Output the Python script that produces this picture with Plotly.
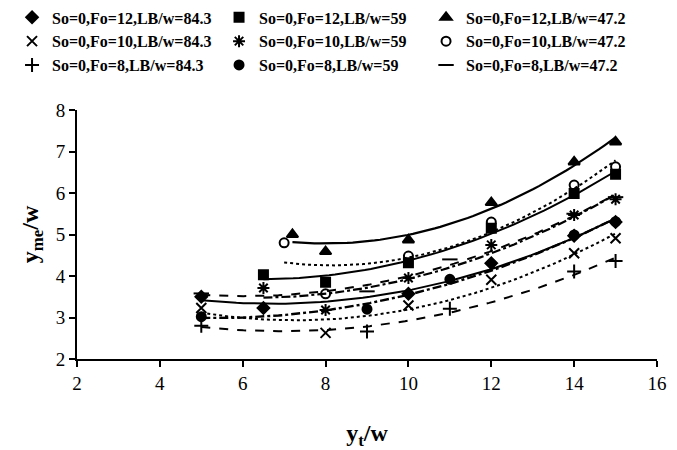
import numpy as np
import plotly.graph_objects as go

# ---- data ----
names = [
    "So=0,Fo=12,LB/w=84.3", "So=0,Fo=12,LB/w=59", "So=0,Fo=12,LB/w=47.2",
    "So=0,Fo=10,LB/w=84.3", "So=0,Fo=10,LB/w=59", "So=0,Fo=10,LB/w=47.2",
    "So=0,Fo=8,LB/w=84.3", "So=0,Fo=8,LB/w=59", "So=0,Fo=8,LB/w=47.2",
]

x_fo12_843 = [5, 6.5, 10, 12, 14, 15]
y_fo12_843 = [3.50, 3.23, 3.57, 4.31, 4.97, 5.30]

x_fo12_59 = [6.5, 8, 10, 12, 14, 15]
y_fo12_59 = [4.03, 3.85, 4.32, 5.15, 5.99, 6.45]

x_fo12_472 = [7.2, 8, 10, 12, 14, 15]
y_fo12_472 = [5.00, 4.59, 4.87, 5.77, 6.75, 7.23]

x_fo10_843 = [5, 8, 10, 12, 14, 15]
y_fo10_843 = [3.23, 2.63, 3.29, 3.91, 4.55, 4.91]

x_fo10_59 = [6.5, 8, 10, 12, 14, 15]
y_fo10_59 = [3.71, 3.18, 3.95, 4.75, 5.47, 5.85]

x_fo10_472 = [7, 8, 10, 12, 14, 15]
y_fo10_472 = [4.80, 3.57, 4.48, 5.30, 6.19, 6.63]

x_fo8_843 = [5, 9, 11, 14, 15]
y_fo8_843 = [2.80, 2.66, 3.21, 4.11, 4.36]

x_fo8_59 = [5, 9, 11, 14, 15]
y_fo8_59 = [3.02, 3.20, 3.92, 4.99, 5.31]

x_fo8_472 = [5, 9, 11, 14, 15]
y_fo8_472 = [3.58, 3.63, 4.40, 5.50, 5.90]

xs = [x_fo12_843, x_fo12_59, x_fo12_472, x_fo10_843, x_fo10_59, x_fo10_472,
      x_fo8_843, x_fo8_59, x_fo8_472]
ys = [y_fo12_843, y_fo12_59, y_fo12_472, y_fo10_843, y_fo10_59, y_fo10_472,
      y_fo8_843, y_fo8_59, y_fo8_472]

x_ticks = [2, 4, 6, 8, 10, 12, 14, 16]
y_ticks = [2, 3, 4, 5, 6, 7, 8]

# ---- styles ----
symbols = ["diamond", "square", "triangle-up", "x-thin-open", "asterisk-open",
           "circle-open", "cross-thin-open", "circle", "line-ew-open"]
sizes = [9, 9, 10, 10, 10, 9, 10, 9, 11]
dashes = ["solid", "solid", "solid", "dot", "dashdot", "dot", "dash", "dashdot", "dash"]
widths = [2, 2, 2.2, 2, 2.2, 2, 2, 2.4, 2]

fig = go.Figure()

# trend lines (quadratic fits of each series)
for x, y, d, w in zip(xs, ys, dashes, widths):
    c = np.polyfit(x, y, 2)
    xx = np.linspace(min(x), max(x), 60)
    fig.add_trace(go.Scatter(x=xx, y=np.polyval(c, xx), mode="lines",
                             line=dict(color="black", width=w, dash=d),
                             showlegend=False, hoverinfo="skip"))

# markers
for n, x, y, s, sz in zip(names, xs, ys, symbols, sizes):
    fig.add_trace(go.Scatter(x=x, y=y, mode="markers", name=n,
                             marker=dict(symbol=s, size=sz, color="black",
                                         line=dict(color="black", width=2))))

axis_font = dict(family="Liberation Serif", size=19, color="black")
fig.update_layout(
    width=677, height=450,
    paper_bgcolor="white", plot_bgcolor="white",
    margin=dict(l=77, r=20, t=110, b=91, autoexpand=False),
    font=dict(family="Liberation Serif", color="black"),
    legend=dict(orientation="h",
                x=-0.112, y=1.44, xanchor="left", yanchor="top",
                font=dict(family="Liberation Serif", size=16, color="black", weight="bold"),
                entrywidth=162, entrywidthmode="pixels",
                itemwidth=30, tracegroupgap=0, bgcolor="rgba(0,0,0,0)"),
    xaxis=dict(range=[2, 16], tickvals=x_ticks, showgrid=False, zeroline=False,
               showline=True, linecolor="black", linewidth=2, automargin=False,
               ticks="outside", ticklen=6, tickwidth=2, tickcolor="black",
               tickfont=axis_font,
               title=dict(text="<b>y<sub>t</sub>/w</b>",
                          font=dict(family="Liberation Serif", size=24, color="black"),
                          standoff=36)),
    yaxis=dict(range=[2, 8], tickvals=y_ticks, showgrid=False, zeroline=False,
               showline=True, linecolor="black", linewidth=2, automargin=False,
               ticks="outside", ticklen=6, tickwidth=2, tickcolor="black",
               tickfont=axis_font,
               title=dict(text="<b>y<sub>me</sub>/w</b>",
                          font=dict(family="Liberation Serif", size=24, color="black"),
                          standoff=10)),
)

fig.write_html("out.html", config={"displayModeBar": False},
               post_script="document.body.style.margin='0';document.body.style.padding='0';")
